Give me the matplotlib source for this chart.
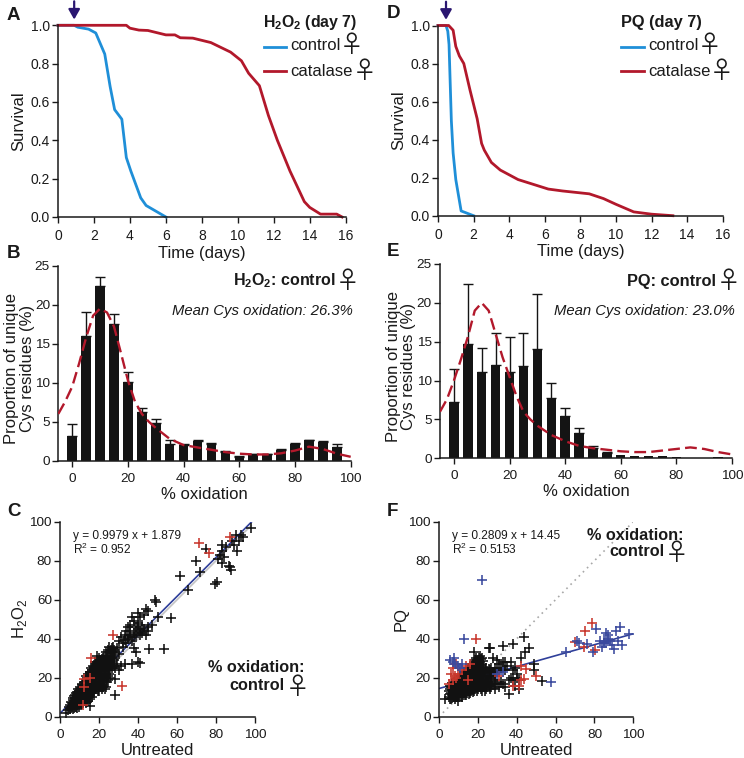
import matplotlib
matplotlib.use('Agg')
import matplotlib.pyplot as plt

plt.rcParams['font.family'] = ['Liberation Sans', 'DejaVu Sans']
plt.rcParams['mathtext.fontset'] = 'custom'
plt.rcParams['mathtext.rm'] = 'Liberation Sans'
plt.rcParams['mathtext.bf'] = 'Liberation Sans:bold'

# --- survival curves ---
a_ctrl_t = [0, 0.9, 1.1, 1.7, 2.1, 2.6, 2.9, 3.15, 3.55, 3.8, 4.05, 4.6, 4.9, 6]
a_ctrl_s = [1, 1, 0.99, 0.98, 0.96, 0.85, 0.68, 0.56, 0.51, 0.31, 0.24, 0.10, 0.06, 0]
a_cat_t = [0, 3.8, 4, 4.5, 5, 6, 6.5, 6.8, 7.5, 8.5, 9.6, 10.2, 10.6, 11.2, 11.7, 12.2, 12.9, 13.7, 14, 14.6, 15.5, 15.8]
a_cat_s = [1, 1, 0.985, 0.975, 0.973, 0.95, 0.95, 0.935, 0.933, 0.91, 0.86, 0.815, 0.75, 0.685, 0.53, 0.40, 0.24, 0.08, 0.05, 0.015, 0.015, 0]
d_ctrl_t = [0, 0.45, 0.55, 0.62, 0.75, 0.85, 1, 1.3, 2]
d_ctrl_s = [1, 1, 0.97, 0.9, 0.5, 0.33, 0.19, 0.025, 0]
d_cat_t = [0, 0.6, 0.85, 1, 1.2, 1.45, 1.8, 2.2, 2.45, 2.6, 3, 3.5, 4.5, 6.2, 7, 8.5, 9.3, 10, 11, 12, 13.2]
d_cat_s = [1, 1, 0.975, 0.89, 0.84, 0.8, 0.66, 0.51, 0.38, 0.345, 0.28, 0.24, 0.19, 0.14, 0.13, 0.115, 0.09, 0.06, 0.02, 0.008, 0]

# --- histograms ---
bins = [0, 5, 10, 15, 20, 25, 30, 35, 40, 45, 50, 55, 60, 65, 70, 75, 80, 85, 90, 95]
b_vals = [3.2, 16, 22.4, 17.5, 10.1, 6.3, 4.8, 2.2, 2.0, 2.5, 2.2, 1.1, 0.5, 0.8, 0.8, 1.4, 2.2, 2.6, 2.4, 1.7]
b_top = [4.7, 19.1, 23.6, 18.8, 11.4, 6.7, 5.4, 2.6, 2.1, 2.6, 2.3, 1.3, 0.6, 0.85, 0.85, 1.45, 2.3, 2.7, 2.5, 2.1]
e_vals = [7.3, 14.7, 11.1, 12, 11.1, 11.9, 14, 7.7, 5.5, 3.2, 1.3, 0.7, 0.4, 0.3, 0.3, 0.25, 0.2, 0, 0, 0.2]
e_top = [11.5, 22.4, 14.2, 16.1, 15.6, 16.1, 21.1, 9.7, 6.5, 3.9, 1.6, 0.75, 0.4, 0.3, 0.3, 0.25, 0.2, 0, 0, 0.2]

b_curve_x = [-5, -2.5, 0, 2.5, 5, 7.5, 10, 12.5, 15, 17.5, 20, 22.5, 25, 27.5, 30, 35, 40, 45, 50, 55, 60, 65, 70, 75, 80, 85, 90, 95, 100]
b_curve_y = [6, 7.6, 9.5, 12.5, 15.8, 18.6, 19.5, 19, 17.2, 13.8, 10.3, 7.6, 6, 5, 4.2, 2.8, 2, 1.7, 1.4, 1.1, 0.9, 0.8, 0.8, 0.95, 1.3, 1.8, 1.5, 0.9, 0.5]
e_curve_x = [-5, -2.5, 0, 2.5, 5, 7.5, 10, 12.5, 15, 17.5, 20, 22.5, 25, 27.5, 30, 35, 40, 45, 50, 55, 60, 65, 70, 75, 80, 85, 90, 95, 100]
e_curve_y = [6, 7.6, 10, 12.7, 15.6, 19, 20, 19, 16, 13, 10.5, 8, 6, 5, 4.2, 3, 2.2, 1.6, 1.3, 1.1, 0.9, 0.8, 0.8, 1, 1.2, 1.4, 1.2, 0.8, 0.5]

# --- scatter C (untreated, H2O2) ---
c_black = [(98, 97), (93, 93), (94, 92), (90, 93), (88, 90), (89, 88), (91, 85), (92, 90), (85, 87), (83, 88),
           (83, 85), (84, 82), (82, 83), (81, 81), (83, 79), (75, 86), (69.5, 80), (72, 74), (61.5, 72), (65.5, 65),
           (80.5, 69), (79.5, 68), (87, 77), (87.5, 75), (86.5, 77.5), (48.5, 60), (49, 59), (50, 51), (57, 50.5), (53.5, 34.5),
           (45.5, 34.5), (40, 28), (41, 27.5), (37, 27), (28, 11), (28, 19.5), (38, 35), (39, 33), (44, 55), (45, 54),
           (43, 52), (40, 53), (41, 51), (38, 49), (36, 47), (35, 46), (39, 46), (42, 47), (45, 46), (47, 47),
           (44, 42), (41, 42), (38, 43), (36, 42), (33, 42), (31, 41), (30, 39), (32, 38), (35, 40), (37, 39),
           (39, 42), (41, 44), (43, 45), (34, 44), (29, 35), (27, 36), (25, 36), (26, 34), (28, 33), (30, 32),
           (24, 31), (22, 30), (20, 30), (19, 31), (21, 28), (23, 28), (25, 29), (27, 30), (24, 27), (26, 26),
           (29, 27), (31, 26), (33, 27), (30, 24), (28, 25), (22, 26), (20, 26), (18, 28), (17, 26), (16, 25),
           (19, 24), (21, 24), (23, 23), (25, 22), (18, 22), (20, 21), (22, 20), (24, 18), (17, 23), (15, 23),
           (14, 22), (16, 21), (18, 19), (20, 18), (22, 15), (23, 14), (13, 21), (14, 19), (16, 18), (17.5, 16),
           (19, 15), (20, 13), (12, 18), (13, 17), (15, 16), (17, 13), (11, 17), (12, 15.5), (13.5, 14.5), (15, 13),
           (16, 12), (10, 15), (11, 13.5), (12.5, 12.5), (14, 11), (15, 5.5), (9, 14), (10, 12.5), (11, 11), (12, 10),
           (13, 9), (14, 8), (8, 12), (9, 11), (10, 10), (11, 9), (12, 8), (13, 7), (7, 10.5), (8, 9.5),
           (9, 8.5), (10, 7.5), (11, 6.5), (6.5, 8.5), (7.5, 8), (8.5, 7), (9.5, 6), (6, 7), (7, 6), (8, 5),
           (5, 6), (6, 5), (7, 4.5), (5, 4), (4.5, 5), (3, 2), (4, 3.5), (18, 24), (16, 23), (19, 27)]
c_black_dense = [(5.5, 4.5), (5.5, 7.5), (6.5, 4), (6.5, 6), (6.5, 9.5), (7.5, 5), (7.5, 7), (7.5, 9.5), (7.5, 11),
                 (8.5, 4.5), (8.5, 6), (8.5, 8), (8.5, 10), (8.5, 12.5), (9.5, 5), (9.5, 7), (9.5, 9.5), (9.5, 11.5), (9.5, 13),
                 (10.5, 6), (10.5, 8.5), (10.5, 10.5), (10.5, 12), (10.5, 14), (11.5, 7.5), (11.5, 9.5), (11.5, 11.5), (11.5, 13),
                 (11.5, 15), (11.5, 16.5), (12.5, 8.5), (12.5, 10.5), (12.5, 14), (12.5, 16), (12.5, 18), (13.5, 7.5), (13.5, 9.5),
                 (13.5, 12), (13.5, 13.5), (13.5, 16), (13.5, 18.5), (13.5, 20), (14.5, 10), (14.5, 12.5), (14.5, 14.5), (14.5, 16.5),
                 (14.5, 18), (14.5, 20.5), (15.5, 9), (15.5, 11), (15.5, 14), (15.5, 15), (15.5, 17.5), (15.5, 19), (15.5, 21), (15.5, 23),
                 (16.5, 10), (16.5, 13), (16.5, 14.5), (16.5, 16.5), (16.5, 19.5), (16.5, 22), (16.5, 24), (17.5, 12), (17.5, 14.5),
                 (17.5, 18), (17.5, 20), (17.5, 21.5), (17.5, 24), (17.5, 25.5), (18.5, 14), (18.5, 16.5), (18.5, 18), (18.5, 20.5),
                 (18.5, 23), (18.5, 25), (18.5, 27), (19.5, 13), (19.5, 16), (19.5, 19.5), (19.5, 22), (19.5, 24), (19.5, 26), (19.5, 28.5),
                 (20.5, 15.5), (20.5, 17), (20.5, 19.5), (20.5, 22), (20.5, 25), (20.5, 27), (20.5, 29), (21.5, 14), (21.5, 17), (21.5, 19),
                 (21.5, 22), (21.5, 24), (21.5, 26.5), (21.5, 29.5), (22.5, 16), (22.5, 18.5), (22.5, 21), (22.5, 23.5), (22.5, 25.5),
                 (22.5, 28), (22.5, 31), (23.5, 15), (23.5, 20), (23.5, 22), (23.5, 25), (23.5, 27), (23.5, 29.5), (23.5, 33), (24.5, 19),
                 (24.5, 21), (24.5, 24), (24.5, 26), (24.5, 28), (24.5, 30.5), (24.5, 34), (25.5, 20), (25.5, 24), (25.5, 27), (25.5, 28.5),
                 (25.5, 31), (25.5, 32.5), (26.5, 25), (26.5, 28), (26.5, 30), (26.5, 33), (26.5, 35), (27.5, 26), (27.5, 29), (27.5, 31),
                 (27.5, 34), (32, 36), (34, 38), (36, 44), (38, 41), (40, 48), (42, 43), (37, 51), (40, 45), (35, 41), (33, 39.5), (45, 44)]
c_red = [(71, 89), (76.5, 84), (87, 92), (27, 42), (16, 30), (12, 19.5), (15, 20), (12, 15), (11.5, 6), (31.5, 16)]

# --- scatter F (untreated, PQ) ---
f_black = [(44, 41), (33, 36.5), (38, 37.5), (46.5, 35), (44.5, 33), (42, 30), (26, 35), (25.5, 35), (18, 33), (49, 27),
           (49, 24), (53, 18.5), (36, 11.5), (41, 14), (39, 25), (40, 22), (34, 28), (37, 28), (30, 29), (28, 30),
           (3, 9), (5, 10), (5, 13), (6, 9), (6, 12), (6, 15), (7, 10), (7, 13), (7, 16), (8, 11),
           (8, 14), (8, 17), (9, 10), (9, 13), (9, 16), (9, 19), (10, 11), (10, 14), (10, 17), (10, 20),
           (11, 12), (11, 15), (11, 18), (11, 21), (12, 13), (12, 16), (12, 19), (12, 22), (13, 12), (13, 15),
           (13, 18), (13, 21), (14, 14), (14, 17), (14, 20), (14, 23), (15, 13), (15, 16), (15, 22), (15, 25),
           (16, 15), (16, 18), (16, 21), (16, 24), (17, 14), (17, 17), (17, 20), (17, 23), (17, 26), (18, 16),
           (18, 19), (18, 22), (18, 25), (18, 28), (19, 15), (19, 18), (19, 21), (19, 24), (19, 27), (19, 30),
           (20, 17), (20, 20), (20, 23), (20, 26), (20, 29), (21, 16), (21, 19), (21, 22), (21, 25), (21, 28),
           (21, 31), (22, 18), (22, 21), (22, 24), (22, 27), (22, 30), (23, 15), (23, 19), (23, 23), (24, 17),
           (24, 21), (24, 25), (25, 23), (25, 18), (26, 24), (26, 20), (26, 16), (27, 23), (27, 18), (28, 17),
           (28, 23), (29, 14), (29, 21), (30, 24), (30, 17), (31, 27), (32, 25), (32, 18), (33, 28), (33, 17),
           (34, 15), (34, 24), (36, 19), (37, 20), (38, 19), (39, 16), (40, 20), (41, 19), (38, 24), (35, 26),
           (16, 12), (14, 11), (12, 10), (18, 13), (20, 14), (10, 8), (8, 9), (22, 13), (24, 14), (26, 14)]
f_black_dense = [(5.5, 9), (5.5, 11.5), (5.5, 14), (5.5, 16), (6.5, 9.5), (6.5, 11), (6.5, 13.5), (6.5, 15), (6.5, 17.5),
                 (7.5, 10), (7.5, 11.5), (7.5, 14.5), (7.5, 17.5), (8.5, 10), (8.5, 12), (8.5, 13.5), (8.5, 15.5), (8.5, 18),
                 (9.5, 11), (9.5, 12), (9.5, 14.5), (9.5, 17), (9.5, 18), (10.5, 10), (10.5, 12.5), (10.5, 15.5), (10.5, 16.5),
                 (10.5, 18.5), (10.5, 20), (11.5, 10.5), (11.5, 13.5), (11.5, 14), (11.5, 16.5), (11.5, 19.5), (11.5, 21),
                 (12.5, 11), (12.5, 14), (12.5, 15), (12.5, 17.5), (12.5, 20.5), (12.5, 22), (13.5, 11), (13.5, 13), (13.5, 16),
                 (13.5, 19), (13.5, 20), (13.5, 22), (14.5, 12), (14.5, 15), (14.5, 18), (14.5, 19.5), (14.5, 21.5), (14.5, 24),
                 (15.5, 11.5), (15.5, 14.5), (15.5, 17.5), (15.5, 19.5), (15.5, 20.5), (15.5, 23.5), (16.5, 13), (16.5, 16.5),
                 (16.5, 19.5), (16.5, 22.5), (16.5, 25), (17.5, 12.5), (17.5, 15.5), (17.5, 18.5), (17.5, 21.5), (17.5, 24.5),
                 (17.5, 27), (18.5, 14), (18.5, 17.5), (18.5, 20.5), (18.5, 23.5), (18.5, 26.5), (18.5, 29), (19.5, 13), (19.5, 16.5),
                 (19.5, 19.5), (19.5, 22.5), (19.5, 25.5), (19.5, 28.5), (20.5, 15), (20.5, 18), (20.5, 21), (20.5, 24), (20.5, 27),
                 (20.5, 30), (21.5, 14), (21.5, 17.5), (21.5, 20.5), (21.5, 23.5), (21.5, 26.5), (21.5, 29.5), (22.5, 15.5), (22.5, 19.5),
                 (22.5, 22.5), (22.5, 25.5), (22.5, 28.5), (23.5, 13), (23.5, 17), (23.5, 21), (23.5, 24), (24.5, 15), (24.5, 19),
                 (24.5, 23), (25.5, 16), (25.5, 21), (25.5, 24.5), (27, 15), (27, 20), (27, 25), (29, 17), (29, 19), (29, 25),
                 (31, 15), (31, 23)]
f_red = [(19, 40), (79, 48), (75, 44), (70, 38.5), (74.5, 36), (80.5, 34), (42, 26), (45, 24.5), (50, 21), (44, 19.5),
         (42, 19), (38, 15.5), (41, 16), (31, 21), (6, 22), (8, 21), (9, 20), (7, 19), (5, 17), (10, 22),
         (12, 24), (14, 26), (16, 27), (15, 19), (7, 25), (9, 27)]
f_blue = [(22, 70), (13, 40), (5.5, 29), (7, 28), (7.5, 30), (8, 27), (10, 26), (11, 25), (12, 27), (65.5, 33),
          (71, 39), (72, 38), (76, 37.5), (79.5, 33), (81, 45), (86, 43), (87, 42), (87, 40), (83, 39), (85, 38),
          (86, 38), (88, 39), (89, 37), (84, 36), (90, 34.5), (91, 44), (93, 46), (92, 39), (94, 37), (98, 42.5),
          (57.5, 18), (33, 23), (30, 22), (85, 39)]

c_fit = (0.9979, 1.879)
f_fit = (0.2809, 14.45)

W, H = 744, 758
BLUE = '#1f8fd8'
RED = '#b2182b'
INK = '#1a1a1a'
FS_TICK = 9.7
FS_LAB = 12


def make_ax(x0, x1, ytop, ybot):
    # axes rect from pixel edges
    ax = fig.add_axes([x0 / W, 1 - ybot / H, (x1 - x0) / W, (ybot - ytop) / H])
    for s in ['top', 'right']:
        ax.spines[s].set_visible(False)
    for s in ['left', 'bottom']:
        ax.spines[s].set_linewidth(1.1)
        ax.spines[s].set_color(INK)
    ax.tick_params(width=1.0, length=4.5, labelsize=FS_TICK, color=INK, labelcolor=INK)
    ax.tick_params(axis='x', pad=4)
    ax.tick_params(axis='y', pad=1.5)
    return ax


def px_text(x, y, s, **kw):
    kw.setdefault('color', INK)
    fig.text(x / W, 1 - y / H, s, **kw)


def female(x, y, size=17):
    # thinner glyph than the DejaVu one
    px_text(x, y, '\u2640', fontsize=size, family='Noto Sans CJK JP', ha='center', va='center')


fig = plt.figure(figsize=(W / 100, H / 100), dpi=100)


def survival(rect, ctrl, cat, arrow_t):
    ax = make_ax(*rect)
    ax.plot(ctrl[0], ctrl[1], color=BLUE, lw=2, clip_on=False, solid_joinstyle='round')
    ax.plot(cat[0], cat[1], color=RED, lw=2, clip_on=False, solid_joinstyle='round')
    ax.set_xlim(0, 16)
    ax.set_ylim(0, 1)
    ax.set_xticks(range(0, 17, 2))
    ax.set_yticks([0, 0.2, 0.4, 0.6, 0.8, 1.0])
    ax.tick_params(labelsize=10)
    ax.set_xlabel('Time (days)', fontsize=FS_LAB, color=INK, labelpad=2)
    ax.set_ylabel('Survival', fontsize=FS_LAB, color=INK, labelpad=3)
    ax.annotate('', xy=(arrow_t, 1.03), xytext=(arrow_t, 1.125), annotation_clip=False,
                arrowprops=dict(arrowstyle='-|>,head_width=0.34,head_length=0.6', color='#2a1670', lw=1.6,
                                shrinkA=0, shrinkB=0))
    return ax


survival((58, 345.7, 25.3, 217), (a_ctrl_t, a_ctrl_s), (a_cat_t, a_cat_s), 0.9)
survival((438, 722.7, 25.5, 215.7), (d_ctrl_t, d_ctrl_s), (d_cat_t, d_cat_s), 0.45)


def histogram(rect, vals, top, cx, cy):
    ax = make_ax(*rect)
    ax.bar(bins, vals, width=3.4, color='#141414', zorder=2)
    err = [v2 - v1 for v1, v2 in zip(vals, top)]
    for xb, v, e in zip(bins, vals, err):
        if e > 0.02:
            ax.errorbar(xb, v, yerr=[[0], [e]], color='#141414', capsize=3.6, lw=1, capthick=1, zorder=2)
    ax.plot(cx, cy, color=RED, lw=1.7, ls=(0, (5, 2.2)), zorder=3)
    ax.set_xlim(-5, 100)
    ax.set_ylim(0, 25)
    ax.set_xticks(range(0, 101, 20))
    ax.set_yticks(range(0, 26, 5))
    ax.set_xlabel('% oxidation', fontsize=FS_LAB, color=INK, labelpad=1.5)
    ax.set_ylabel('Proportion of unique\nCys residues (%)', fontsize=FS_LAB, color=INK, labelpad=0,
                  linespacing=1.02, y=0.475)
    return ax


histogram((58.3, 350.7, 265.7, 460.7), b_vals, b_top, b_curve_x, b_curve_y)
histogram((440, 732, 264, 458.3), e_vals, e_top, e_curve_x, e_curve_y)


def scatter(rect, groups, fit, ylabel, eq, dotted):
    ax = make_ax(*rect)
    if dotted:
        ax.plot([2, 100], [2, 100], color='#a8a8a8', lw=1.2, ls=(0, (1, 2.5)), zorder=1)
    else:
        ax.plot([2, 98], [2, 98], color='#c4c4c4', lw=1.2, zorder=1)
    x_end = min(100, (100 - fit[1]) / fit[0])
    ax.plot([0, x_end], [fit[1], fit[0] * x_end + fit[1]], color='#2f3f9a', lw=1.2, zorder=1.5)
    for pts, col in groups:
        xs, ys = zip(*pts)
        ax.plot(xs, ys, ls='none', marker='+', ms=6.8, mew=1.15, color=col, zorder=2, clip_on=False)
    ax.set_xlim(0, 100)
    ax.set_ylim(0, 100)
    ax.set_xticks(range(0, 101, 20))
    ax.set_yticks(range(0, 101, 20))
    ax.set_xlabel('Untreated', fontsize=FS_LAB, color=INK, labelpad=1.5)
    ax.set_ylabel(ylabel, fontsize=FS_LAB, color=INK, labelpad=0)
    ax.text(6.5, 95.5, eq, fontsize=8.6, color=INK, va='top', linespacing=0.95)
    return ax


scatter((60.3, 255, 521.7, 716.7), [(c_black, '#111111'), (c_black_dense, '#111111'), (c_red, '#c8372d')], c_fit,
        r'H$_{\mathregular{2}}$O$_{\mathregular{2}}$', 'y = 0.9979 x + 1.879\nR$^{\\mathregular{2}}$ = 0.952', False)
scatter((439, 633.3, 521.7, 716.7), [(f_black, '#111111'), (f_black_dense, '#111111'), (f_red, '#c8372d'), (f_blue, '#3b4a9e')], f_fit,
        'PQ', 'y = 0.2809 x + 14.45\nR$^{\\mathregular{2}}$ = 0.5153', True)

# panel letters
for x, y, s in [(7, 15, 'A'), (7, 253, 'B'), (7, 511, 'C'), (387, 13, 'D'), (387, 252, 'E'), (387, 511, 'F')]:
    px_text(x, y, s, fontsize=13.5, fontweight='bold', va='center', ha='left')

# legends A
px_text(263, 23, r'$\mathbf{H_2O_2}$ (day 7)', fontsize=11.4, fontweight='bold', va='center')
fig.add_artist(plt.Line2D([264 / W, 286 / W], [1 - 46.5 / H] * 2, color=BLUE, lw=2))
fig.add_artist(plt.Line2D([264 / W, 286 / W], [1 - 71 / H] * 2, color=RED, lw=2))
px_text(290, 46, 'control', fontsize=12, va='center')
px_text(290, 71, 'catalase', fontsize=12, va='center')
female(352, 46)
female(365, 71)

# legends D
px_text(621, 23, 'PQ (day 7)', fontsize=11.8, fontweight='bold', va='center')
fig.add_artist(plt.Line2D([621 / W, 644 / W], [1 - 46.5 / H] * 2, color=BLUE, lw=2))
fig.add_artist(plt.Line2D([621 / W, 644 / W], [1 - 71 / H] * 2, color=RED, lw=2))
px_text(648, 46, 'control', fontsize=12, va='center')
px_text(648, 71, 'catalase', fontsize=12, va='center')
female(710, 46)
female(722, 71)

# histogram notes
px_text(336, 281, r'$\mathbf{H_2O_2}$: control', fontsize=11.5, fontweight='bold', va='center', ha='right')
female(348, 282)
px_text(353, 311, 'Mean Cys oxidation: 26.3%', fontsize=10.7, style='italic', va='center', ha='right')
px_text(716, 281, 'PQ: control', fontsize=11.8, fontweight='bold', va='center', ha='right')
female(729, 282)
px_text(735, 311, 'Mean Cys oxidation: 23.0%', fontsize=10.7, style='italic', va='center', ha='right')

# scatter notes
px_text(256.5, 668, '% oxidation:', fontsize=11.7, fontweight='bold', va='center', ha='center')
px_text(257, 685, 'control', fontsize=11.7, fontweight='bold', va='center', ha='center')
female(298, 687)
px_text(635, 535, '% oxidation:', fontsize=11.7, fontweight='bold', va='center', ha='center')
px_text(637, 552, 'control', fontsize=11.7, fontweight='bold', va='center', ha='center')
female(677, 553)

fig.savefig('out.png', dpi=100)
